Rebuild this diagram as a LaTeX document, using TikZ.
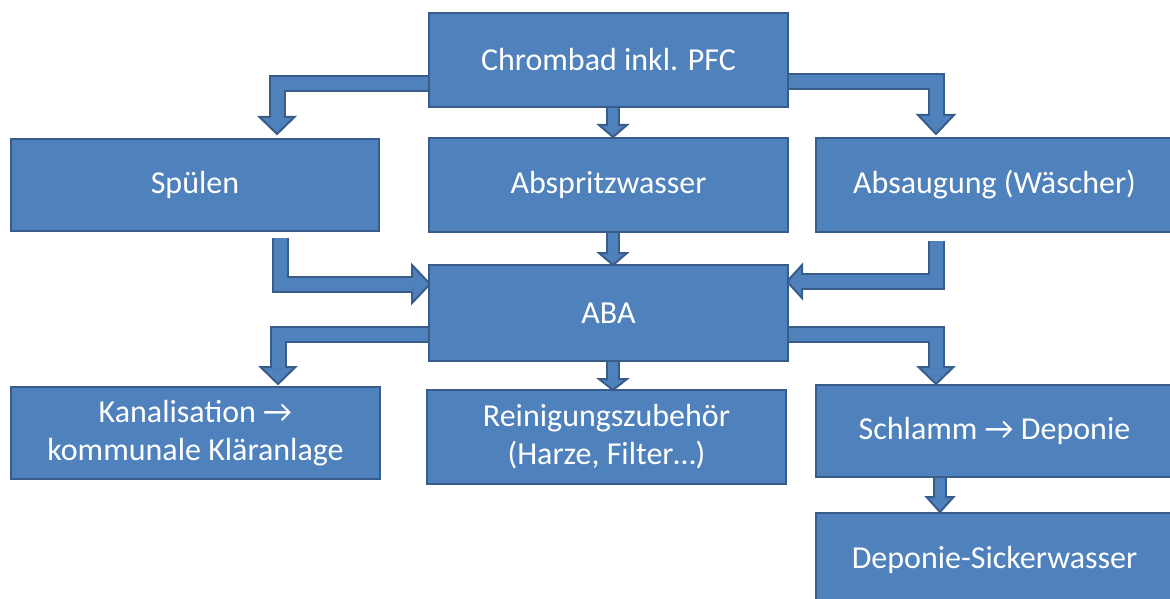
\documentclass[tikz,border=0pt]{standalone}
\usepackage{fontspec}
\setmainfont{Carlito}
\usetikzlibrary{calc}
\usetikzlibrary{backgrounds}

\definecolor{boxfill}{HTML}{4F81BD}
\definecolor{boxline}{HTML}{385D8A}

\tikzset{
  box/.style={draw=boxline, fill=boxfill, line width=2.5pt, text=white, align=center,
    inner sep=0pt, minimum width=359pt, minimum height=94pt, font=\fontsize{32}{38}\selectfont},
  bshaft/.style={draw=boxline, double=boxfill, double distance=#1, line width=2pt, line join=miter},
  bshaft/.default=13pt,
  bhead/.style={draw=boxline, fill=boxfill, line width=2pt, line join=miter},
}

\begin{document}
\begin{tikzpicture}[x=1pt, y=-1pt]
\useasboundingbox (0,0) rectangle (1170,599);
\clip (0,0) rectangle (1170,599);

% boxes
\node[box] (chrom) at (608.5,60) {Chrombad inkl. PFC};
\node[box, minimum width=368pt, minimum height=92pt] (spuelen) at (195,185) {Spülen};
\node[box] (abspritz) at (608.5,185) {Abspritzwasser};
\node[box, minimum width=357pt] (absaug) at (994.5,185) {Absaugung (Wäscher)};
\node[box, minimum height=96pt] (aba) at (608.5,313) {ABA};
\node[box, minimum width=369pt, minimum height=92pt] (kanal) at (195.5,433) {Kanalisation →\\kommunale Kläranlage};
\node[box] (reinig) at (606.5,437) {Reinigungszubehör\\(Harze, Filter…)};
\node[box, minimum width=357pt, minimum height=92pt] (schlamm) at (994.5,431) {Schlamm → Deponie};
\node[box, minimum width=357pt] (deponie) at (994.5,560) {Deponie-Sickerwasser};

% block arrows
\begin{scope}[on background layer]
 \coordinate (t1) at (277,134);
 \draw[bhead] (t1) -- ++(-17.5,-17) -- ++(35,0) -- cycle;
 \draw[bshaft] ([yshift=-23.5pt]chrom.west) -| ([yshift=16pt]t1);

 \coordinate (t2) at (613,137);
 \draw[bhead] (t2) -- ++(-14,-12) -- ++(28,0) -- cycle;
 \draw[bshaft=10pt] ([xshift=4.5pt]chrom.south) -- ([yshift=11pt]t2);

 \coordinate (t3) at (936,134);
 \draw[bhead] (t3) -- ++(-18,-19) -- ++(36,0) -- cycle;
 \draw[bshaft] ([yshift=-22pt]chrom.east) -| ([yshift=18pt]t3);

 \coordinate (t4) at (430,284);
 \draw[bhead] (t4) -- ++(-18,-19) -- ++(0,38) -- cycle;
 \draw[bshaft] ([xshift=85pt,yshift=-6pt]spuelen.south) |- ([xshift=-17pt]t4);

 \coordinate (t5) at (613,265);
 \draw[bhead] (t5) -- ++(-14,-12) -- ++(28,0) -- cycle;
 \draw[bshaft=10pt] ([xshift=4.5pt]abspritz.south) -- ([yshift=11pt]t5);

 \coordinate (t6) at (787,281.5);
 \draw[bhead] (t6) -- ++(15,-16.5) -- ++(0,33) -- cycle;
 \draw[bshaft] ([xshift=-58.5pt,yshift=-8pt]absaug.south) |- ([xshift=14pt]t6);

 \coordinate (t7) at (278,384);
 \draw[bhead] (t7) -- ++(-17.5,-17) -- ++(35,0) -- cycle;
 \draw[bshaft] ([yshift=-21pt]aba.west) -| ([yshift=16pt]t7);

 \coordinate (t8) at (936,384);
 \draw[bhead] (t8) -- ++(-17.5,-17) -- ++(35,0) -- cycle;
 \draw[bshaft] ([yshift=-21pt]aba.east) -| ([yshift=16pt]t8);

 \coordinate (t9) at (613,390);
 \draw[bhead] (t9) -- ++(-14,-11) -- ++(28,0) -- cycle;
 \draw[bshaft=10pt] ([xshift=4.5pt]aba.south) -- ([yshift=10pt]t9);

 \coordinate (t10) at (940,512);
 \draw[bhead] (t10) -- ++(-13.5,-15) -- ++(27,0) -- cycle;
 \draw[bshaft=10pt] ([xshift=-54.5pt]schlamm.south) -- ([yshift=14pt]t10);
\end{scope}
\end{tikzpicture}
\end{document}
